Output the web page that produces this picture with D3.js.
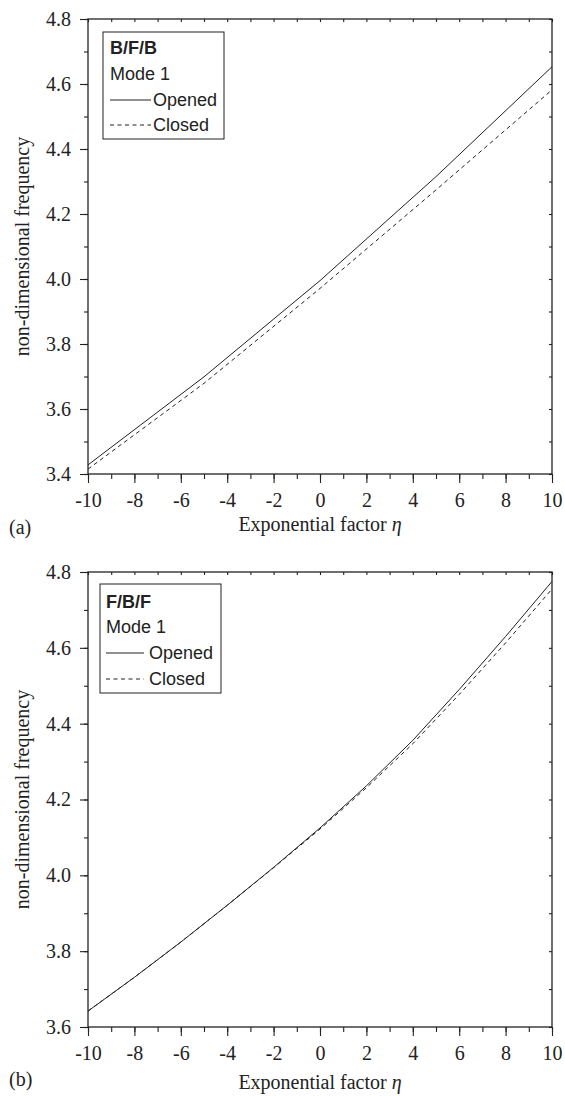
<!DOCTYPE html>
<html>
<head>
<meta charset="utf-8">
<script src="https://cdn.jsdelivr.net/npm/d3@7.9.0/dist/d3.min.js"></script>
<style>
  body { margin: 0; background: #fff; }
  svg text { font-family: "Liberation Serif", "Times New Roman", serif; fill: #222; }
  .legend text { font-family: "Liberation Sans", Arial, sans-serif; }
</style>
</head>
<body>
<div id="chart"></div>
<script>
// panel (a) B/F/B, mode 1
const etaA = [-10, -5, 0, 5, 10];
const openedA = [3.428, 3.699, 3.995, 4.315, 4.653];
const closedA = [3.415, 3.679, 3.971, 4.274, 4.582];

// panel (b) F/B/F, mode 1
const etaB = [-10, -8, -6, -4, -2, 0, 2, 4, 6, 8, 10];
const openedB = [3.642, 3.731, 3.824, 3.921, 4.021, 4.125, 4.236, 4.356, 4.490, 4.630, 4.775];
const closedB = [3.642, 3.731, 3.824, 3.921, 4.020, 4.122, 4.231, 4.347, 4.477, 4.613, 4.755];

const xTicks = [-10, -8, -6, -4, -2, 0, 2, 4, 6, 8, 10];
const xMinorTicks = d3.range(-10, 11, 1);
const yTicksA = [3.4, 3.6, 3.8, 4.0, 4.2, 4.4, 4.6, 4.8];
const yTicksB = [3.6, 3.8, 4.0, 4.2, 4.4, 4.6, 4.8];

const seriesNames = ['Opened', 'Closed'];
const xTitle = 'Exponential factor ';
const yTitle = 'non-dimensional frequency';

const width = 565;
const height = 1096;
const left = 88;
const right = 552;
const ink = '#222';
const serif = '"Liberation Serif", "Times New Roman", serif';

const svg = d3.select('#chart')
  .append('svg')
  .attr('width', width)
  .attr('height', height);

const panels = [
  {
    eta: etaA, opened: openedA, closed: closedA,
    yDomain: [3.4, 4.8], yTicks: yTicksA,
    top: 19, bottom: 474,
    name: 'B/F/B', tag: '(a)', titleY: 531, tagY: 534,
    legend: { x: 103, y: 32, w: 121, h: 107, tx: 110, lx2: 151, ltx: 153, rows: [54, 80, 106, 131] },
  },
  {
    eta: etaB, opened: openedB, closed: closedB,
    yDomain: [3.6, 4.8], yTicks: yTicksB,
    top: 572, bottom: 1027,
    name: 'F/B/F', tag: '(b)', titleY: 1089, tagY: 1086,
    legend: { x: 100, y: 584, w: 121, h: 109, tx: 106, lx2: 144, ltx: 149, rows: [608, 633, 659, 685] },
  },
];

function styleAxis(g) {
  g.attr('font-family', serif);
  g.select('.domain').remove();
  g.selectAll('line').attr('stroke', ink).attr('stroke-width', 1.1);
  g.selectAll('text')
    .attr('font-size', 20)
    .attr('fill', ink)
    .style('font-family', serif);
}

function drawPanel(p) {
  const g = svg.append('g');

  const x = d3.scaleLinear().domain([-10, 10]).range([left, right]);
  const y = d3.scaleLinear().domain(p.yDomain).range([p.bottom, p.top]);

  const yMinor = d3.range(Math.round(p.yDomain[0] * 10), Math.round(p.yDomain[1] * 10) + 1)
    .map((d) => d / 10);

  // bottom axis: minor then major
  g.append('g')
    .attr('transform', `translate(0,${p.bottom})`)
    .call(d3.axisBottom(x).tickValues(xMinorTicks).tickSize(5).tickSizeOuter(0).tickFormat(''))
    .call(styleAxis);
  g.append('g')
    .attr('transform', `translate(0,${p.bottom})`)
    .call(d3.axisBottom(x).tickValues(xTicks).tickSize(9).tickPadding(10).tickSizeOuter(0)
      .tickFormat((d) => String(d)))
    .call(styleAxis);

  // top axis, ticks inward
  g.append('g')
    .attr('transform', `translate(0,${p.top})`)
    .call(d3.axisBottom(x).tickValues(xMinorTicks).tickSize(3).tickSizeOuter(0).tickFormat(''))
    .call(styleAxis);

  // left axis: minor then major
  g.append('g')
    .attr('transform', `translate(${left},0)`)
    .call(d3.axisLeft(y).tickValues(yMinor).tickSize(4).tickSizeOuter(0).tickFormat(''))
    .call(styleAxis);
  g.append('g')
    .attr('transform', `translate(${left},0)`)
    .call(d3.axisLeft(y).tickValues(p.yTicks).tickSize(8).tickPadding(9).tickSizeOuter(0)
      .tickFormat(d3.format('.1f')))
    .call(styleAxis);

  // right axis, ticks inward
  g.append('g')
    .attr('transform', `translate(${right},0)`)
    .call(d3.axisLeft(y).tickValues(yMinor).tickSize(3).tickSizeOuter(0).tickFormat(''))
    .call(styleAxis);

  // frame
  g.append('rect')
    .attr('x', left)
    .attr('y', p.top)
    .attr('width', right - left)
    .attr('height', p.bottom - p.top)
    .attr('fill', 'none')
    .attr('stroke', ink)
    .attr('stroke-width', 1.3);

  const line = d3.line()
    .x((d) => x(d[0]))
    .y((d) => y(d[1]));

  g.append('path')
    .datum(p.eta.map((e, i) => [e, p.opened[i]]))
    .attr('d', line)
    .attr('fill', 'none')
    .attr('stroke', ink)
    .attr('stroke-width', 1);

  g.append('path')
    .datum(p.eta.map((e, i) => [e, p.closed[i]]))
    .attr('d', line)
    .attr('fill', 'none')
    .attr('stroke', ink)
    .attr('stroke-width', 1)
    .attr('stroke-dasharray', '4,3.5');

  // axis titles
  const xt = g.append('text')
    .attr('x', (left + right) / 2)
    .attr('y', p.titleY)
    .attr('text-anchor', 'middle')
    .attr('font-size', 20);
  xt.append('tspan').text(xTitle);
  xt.append('tspan').attr('font-style', 'italic').text('η');

  g.append('text')
    .attr('transform', `translate(28.5,${(p.top + p.bottom) / 2}) rotate(-90)`)
    .attr('text-anchor', 'middle')
    .attr('font-size', 20)
    .text(yTitle);

  g.append('text')
    .attr('x', 9)
    .attr('y', p.tagY)
    .attr('font-size', 20)
    .text(p.tag);

  // legend
  const L = p.legend;
  const lg = g.append('g').attr('class', 'legend');
  lg.append('rect')
    .attr('x', L.x)
    .attr('y', L.y)
    .attr('width', L.w)
    .attr('height', L.h)
    .attr('fill', '#fff')
    .attr('stroke', ink)
    .attr('stroke-width', 1);
  lg.append('text')
    .attr('x', L.tx).attr('y', L.rows[0])
    .attr('font-size', 18).attr('font-weight', 'bold')
    .text(p.name);
  lg.append('text')
    .attr('x', L.tx).attr('y', L.rows[1])
    .attr('font-size', 18)
    .text('Mode 1');

  seriesNames.forEach((name, i) => {
    const ry = L.rows[2 + i];
    lg.append('line')
      .attr('x1', L.tx).attr('x2', L.lx2)
      .attr('y1', ry - 6).attr('y2', ry - 6)
      .attr('stroke', ink)
      .attr('stroke-width', 1)
      .attr('stroke-dasharray', i === 1 ? '4,3.5' : null);
    lg.append('text')
      .attr('x', L.ltx).attr('y', ry)
      .attr('font-size', 18)
      .text(name);
  });
}

panels.forEach(drawPanel);
</script>
</body>
</html>
